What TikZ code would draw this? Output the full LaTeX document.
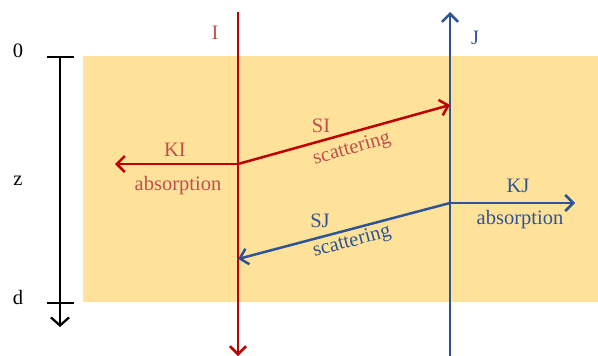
\documentclass[tikz,border=0pt]{standalone}
\usepackage{fontspec}
\setmainfont{Liberation Serif}
\usetikzlibrary{arrows.meta}
\definecolor{slab}{HTML}{FFE29A}
\definecolor{ired}{HTML}{C00000}
\definecolor{tred}{HTML}{C0504D}
\definecolor{jblue}{HTML}{2F5496}
\begin{document}
\begin{tikzpicture}[x=1pt,y=-1pt,
  ray/.style={line width=2.5pt,-{Straight Barb[length=8pt,width=16pt,line width=2.5pt]}},
  lbl/.style={font=\fontsize{20.5}{24}\selectfont,inner sep=0pt},
  scl/.style={line width=2.3pt}]
\useasboundingbox (0,0) rectangle (598,356);
\fill[slab] (83,56) rectangle (598,302);
% depth scale
\coordinate (s0) at (60,57);
\coordinate (sd) at (60,327);
\draw[scl] (47,57) -- (74,57);
\draw[scl] (47,303) -- (74,303);
\draw[scl,-{Straight Barb[length=8pt,width=18pt,line width=2.3pt]}] (s0) -- (sd);
\node[lbl] (l0) at (18,51) {0};
\node[lbl] (lz) at (18,181) {z};
\node[lbl] (ld) at (18,297) {d};
% coordinates
\coordinate (Itop) at (238,12);
\coordinate (Ibot) at (238,356);
\coordinate (Jbot) at (450,356);
\coordinate (Jtop) at (450,12);
\coordinate (A) at (238,164);
\coordinate (B) at (450,105);
\coordinate (C) at (450,203);
\coordinate (D) at (238,259);
\coordinate (KIend) at (115,164);
\coordinate (KJend) at (575,203);
% I
\draw[ray,ired] (Itop) -- (Ibot);
\node[lbl,text=tred] (lI) at (215,33) {I};
\draw[ray,ired] (A) -- (KIend);
\draw[ray,ired] (A) -- (B);
\node[lbl,text=tred] (lKI) at (175,150) {KI};
\node[lbl,text=tred] (lKIa) at (178,186) {absorption};
\node[lbl,text=tred] (lSI) at (321,126) {SI};
\node[lbl,text=tred,rotate=16] (lSIs) at (352,149) {scattering};
% J
\draw[ray,jblue] (Jbot) -- (Jtop);
\node[lbl,text=jblue] (lJ) at (475,38) {J};
\draw[ray,jblue] (C) -- (D);
\draw[ray,jblue] (C) -- (KJend);
\node[lbl,text=jblue] (lSJ) at (320,221) {SJ};
\node[lbl,text=jblue,rotate=15] (lSJs) at (352,242) {scattering};
\node[lbl,text=jblue] (lKJ) at (518,186) {KJ};
\node[lbl,text=jblue] (lKJa) at (520,220) {absorption};
\end{tikzpicture}
\end{document}
